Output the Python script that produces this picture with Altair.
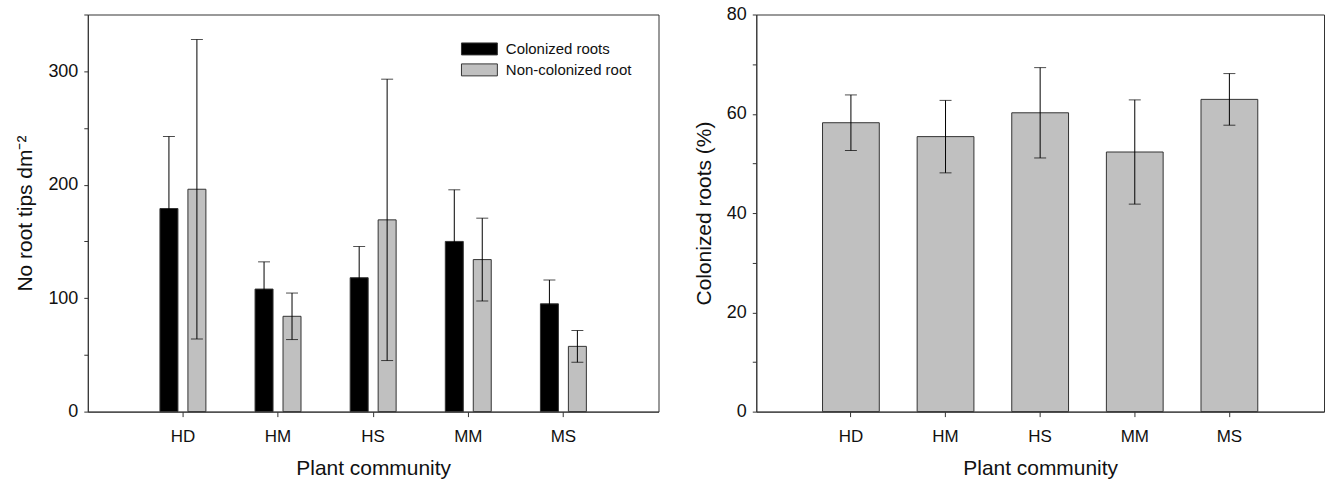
import altair as alt
import pandas as pd

communities = ["HD", "HM", "HS", "MM", "MS"]
series = ["Colonized roots", "Non-colonized root"]
colonized_mean = [179, 108, 118, 150, 95]
colonized_se = [63.5, 24, 27.5, 45.5, 21]
noncolonized_mean = [196, 84, 169, 134, 57.5]
noncolonized_se = [132, 20.5, 124, 36.5, 14]
pct_mean = [58.2, 55.4, 60.2, 52.3, 62.9]
pct_se = [5.6, 7.3, 9.1, 10.5, 5.2]

rows = []
for name, means, ses in [(series[0], colonized_mean, colonized_se),
                         (series[1], noncolonized_mean, noncolonized_se)]:
    for c, m, e in zip(communities, means, ses):
        rows.append({"community": c, "series": name, "mean": m, "lo": m - e, "hi": m + e})
tips = pd.DataFrame(rows)

pct = pd.DataFrame({
    "community": communities,
    "mean": pct_mean,
    "lo": [m - e for m, e in zip(pct_mean, pct_se)],
    "hi": [m + e for m, e in zip(pct_mean, pct_se)],
})

FONT = "Liberation Sans"
LINE = "#333333"
GRAY = "#c0c0c0"
ERR = "#000000"

x_axis = alt.Axis(title="Plant community", labelAngle=0, labelFontSize=17, titleFontSize=21,
                  tickSize=5, labelPadding=12, titlePadding=13, ticks=True,
                  domainColor=LINE, tickColor=LINE, labelColor="#111", titleColor="#111",
                  titleFontWeight="normal")

# ---------------- left panel ----------------
xL = alt.X("community:N", sort=communities,
           scale=alt.Scale(paddingInner=0, paddingOuter=0.5), axis=x_axis)
xoff = alt.XOffset("series:N", sort=series,
                   scale=alt.Scale(paddingInner=0.357, paddingOuter=0.879))
yL_scale = alt.Scale(domain=[0, 350], nice=False)

bars_L = alt.Chart(tips).mark_bar(stroke=LINE, strokeWidth=1).encode(
    x=xL, xOffset=xoff,
    y=alt.Y("mean:Q", scale=yL_scale,
            axis=alt.Axis(title="No root tips dm⁻²", values=list(range(0, 351, 50)),
                          labelExpr="datum.value % 100 === 0 ? datum.label : ''",
                          labelFontSize=18, titleFontSize=21, tickSize=4, labelPadding=6,
                          titlePadding=12, minExtent=40, maxExtent=40,
                          domainColor=LINE, tickColor=LINE, labelColor="#111",
                          titleColor="#111", titleFontWeight="normal", grid=False)),
    fill=alt.Fill("series:N", sort=series,
                  scale=alt.Scale(domain=series, range=["#000000", GRAY]),
                  legend=alt.Legend(title=None, orient="none", legendX=385, legendY=27,
                                    symbolType="M-3,-1H3V1H-3Z", symbolSize=144,
                                    symbolStrokeColor=LINE, symbolStrokeWidth=1,
                                    labelFontSize=15, labelOffset=19, rowPadding=4,
                                    padding=0, labelColor="#111")),
)
err_L = alt.Chart(tips).mark_rule(color=ERR, strokeWidth=1).encode(
    x=xL, xOffset=xoff, y=alt.Y("lo:Q", scale=yL_scale), y2="hi:Q")
capHi_L = alt.Chart(tips).mark_tick(color=ERR, thickness=1, size=12, orient="horizontal").encode(
    x=xL, xOffset=xoff, y=alt.Y("hi:Q", scale=yL_scale))
capLo_L = alt.Chart(tips).mark_tick(color=ERR, thickness=1, size=12, orient="horizontal").encode(
    x=xL, xOffset=xoff, y=alt.Y("lo:Q", scale=yL_scale))

left = alt.layer(bars_L, err_L, capHi_L, capLo_L).properties(width=572, height=398)

# ---------------- right panel ----------------
xR = alt.X("community:N", sort=communities,
           scale=alt.Scale(paddingInner=0.4, paddingOuter=0.7), axis=x_axis)
yR_scale = alt.Scale(domain=[0, 80], nice=False)

bars_R = alt.Chart(pct).mark_bar(color=GRAY, stroke=LINE, strokeWidth=1).encode(
    x=xR,
    y=alt.Y("mean:Q", scale=yR_scale,
            axis=alt.Axis(title="Colonized roots (%)", values=list(range(0, 81, 10)),
                          labelExpr="datum.value % 20 === 0 ? datum.label : ''",
                          labelFontSize=18, titleFontSize=21, tickSize=4, labelPadding=6,
                          titlePadding=10, minExtent=32, maxExtent=32,
                          domainColor=LINE, tickColor=LINE, labelColor="#111",
                          titleColor="#111", titleFontWeight="normal", grid=False)),
)
err_R = alt.Chart(pct).mark_rule(color=ERR, strokeWidth=1).encode(
    x=xR, y=alt.Y("lo:Q", scale=yR_scale), y2="hi:Q")
capHi_R = alt.Chart(pct).mark_tick(color=ERR, thickness=1, size=12, orient="horizontal").encode(
    x=xR, y=alt.Y("hi:Q", scale=yR_scale))
capLo_R = alt.Chart(pct).mark_tick(color=ERR, thickness=1, size=12, orient="horizontal").encode(
    x=xR, y=alt.Y("lo:Q", scale=yR_scale))

right = alt.layer(bars_R, err_R, capHi_R, capLo_R).properties(width=569, height=398)

chart = alt.hconcat(left, right, spacing=33).properties(
    padding={"left": 14, "top": 4, "right": 1, "bottom": 0}
).configure(font=FONT).configure_view(stroke=LINE, strokeWidth=1).configure_axis(grid=False)

chart.save("out.html", embed_options={"renderer": "svg", "actions": False})
